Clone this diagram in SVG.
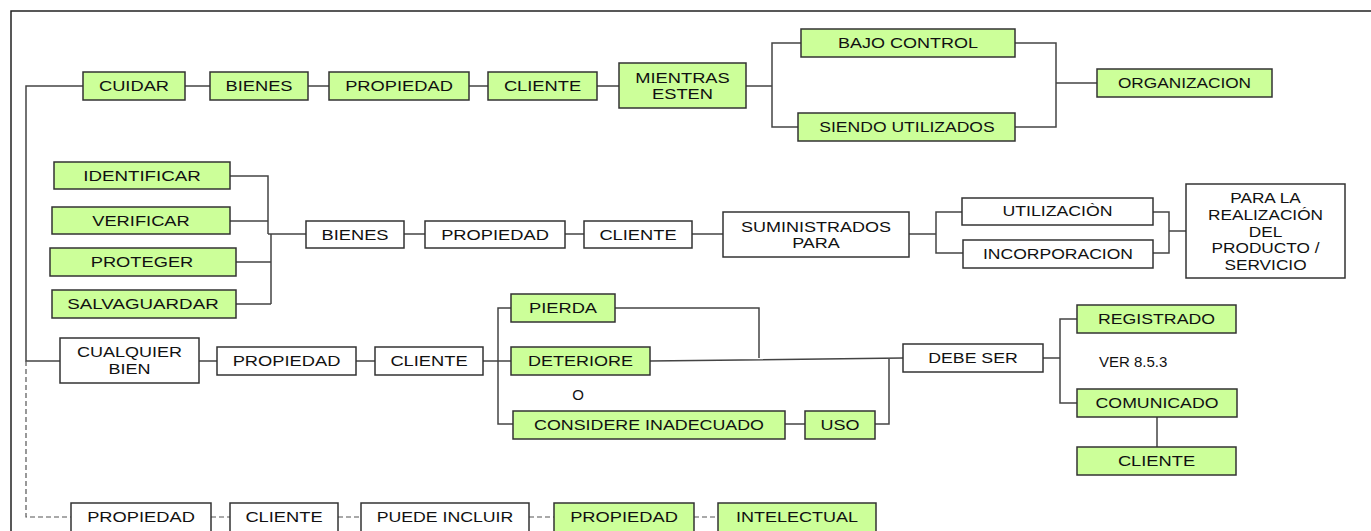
<svg xmlns="http://www.w3.org/2000/svg" width="1371" height="531" viewBox="0 0 1371 531">
<style>
.g{fill:#CCFF99;stroke:#333;stroke-width:1.5}
.w{fill:#fff;stroke:#333;stroke-width:1.5}
.t{font-family:"Liberation Sans",Arial,sans-serif;font-size:15px;text-anchor:middle;fill:#111}
.p{font-family:"Liberation Sans",Arial,sans-serif;font-size:15px;fill:#111}
.c{fill:none;stroke:#444;stroke-width:1.5}
.d{fill:none;stroke:#555;stroke-width:1.2;stroke-dasharray:5 3}
.f{fill:none;stroke:#222;stroke-width:1.5}
</style>
<rect width="1371" height="531" fill="#fff"/>
<path class="f" d="M11,531 V11 H1371"/>
<g id="connectors">
<path class="c" d="M83,86 H26 V361 H60"/>
<path class="c" d="M185,86 H210 M308,86 H329 M469,86 H488 M597,86 H619 M746,86 H772 M801,43 H772 V127 H798 M1015,43 H1056 V127 H1015 M1056,83 H1097"/>
<path class="c" d="M230,176 H268 V234 M230,221 H268 M268,234 H306 M271,234 V304 M236,262 H271 M236,304 H271 M404,234 H425 M565,234 H584 M692,234 H723 M909,234 H936 M962,212 H936 V253 H963 M1153,212 H1169 V253 H1153 M1169,231 H1186"/>
<path class="c" d="M199,361 H217 M356,361 H375 M483,361 H498 M511,308 H498 V424 H513 M498,361 H511 M615,308 H759 V358 M650,361 L903,358 M785,424 H805 M875,424 H889 V358 M1043,358 H1060 M1077,319 H1060 V403 H1077 M1157,417 V447"/>
<path class="d" d="M26,361 V517 H71 M211,517 H230 M338,517 H361 M529,517 H554 M694,517 H718"/>
</g>
<g id="n-cuidar"><rect class="g" x="83" y="72" width="102" height="28"/><text class="t" transform="translate(134,91) scale(1.22,1)">CUIDAR</text></g>
<g id="n-bienes1"><rect class="g" x="210" y="72" width="98" height="28"/><text class="t" transform="translate(259,91) scale(1.22,1)">BIENES</text></g>
<g id="n-propiedad1"><rect class="g" x="329" y="72" width="140" height="28"/><text class="t" transform="translate(399,91) scale(1.22,1)">PROPIEDAD</text></g>
<g id="n-cliente1"><rect class="g" x="488" y="72" width="109" height="28"/><text class="t" transform="translate(542.5,91) scale(1.22,1)">CLIENTE</text></g>
<g id="n-mientras"><rect class="g" x="619" y="63" width="127" height="45"/><text class="t" transform="translate(682.5,0) scale(1.22,1)"><tspan x="0" y="83">MIENTRAS</tspan><tspan x="0" y="99">ESTEN</tspan></text></g>
<g id="n-bajo"><rect class="g" x="801" y="29" width="214" height="28"/><text class="t" transform="translate(908,48) scale(1.2,1)">BAJO CONTROL</text></g>
<g id="n-siendo"><rect class="g" x="798" y="113" width="217" height="28"/><text class="t" transform="translate(907,132) scale(1.17,1)">SIENDO UTILIZADOS</text></g>
<g id="n-organizacion"><rect class="g" x="1097" y="69" width="175" height="28"/><text class="t" transform="translate(1184.5,88) scale(1.15,1)">ORGANIZACION</text></g>

<g id="n-identificar"><rect class="g" x="54" y="162" width="176" height="27"/><text class="t" transform="translate(142,181) scale(1.25,1)">IDENTIFICAR</text></g>
<g id="n-verificar"><rect class="g" x="52" y="207" width="178" height="27"/><text class="t" transform="translate(141,226) scale(1.22,1)">VERIFICAR</text></g>
<g id="n-proteger"><rect class="g" x="50" y="248" width="186" height="28"/><text class="t" transform="translate(142,267) scale(1.22,1)">PROTEGER</text></g>
<g id="n-salvaguardar"><rect class="g" x="52" y="290" width="184" height="28"/><text class="t" transform="translate(143,309) scale(1.25,1)">SALVAGUARDAR</text></g>
<g id="n-bienes2"><rect class="w" x="306" y="221" width="98" height="27"/><text class="t" transform="translate(355,240) scale(1.22,1)">BIENES</text></g>
<g id="n-propiedad2"><rect class="w" x="425" y="221" width="140" height="27"/><text class="t" transform="translate(495,240) scale(1.22,1)">PROPIEDAD</text></g>
<g id="n-cliente2"><rect class="w" x="584" y="221" width="108" height="27"/><text class="t" transform="translate(638,240) scale(1.22,1)">CLIENTE</text></g>
<g id="n-suministrados"><rect class="w" x="723" y="212" width="186" height="45"/><text class="t" transform="translate(816,0) scale(1.2,1)"><tspan x="0" y="232">SUMINISTRADOS</tspan><tspan x="0" y="248">PARA</tspan></text></g>
<g id="n-utilizacion"><rect class="w" x="962" y="198" width="191" height="27"/><text class="t" transform="translate(1057.5,216) scale(1.18,1)">UTILIZACIÒN</text></g>
<g id="n-incorporacion"><rect class="w" x="963" y="240" width="190" height="28"/><text class="t" transform="translate(1058,259) scale(1.17,1)">INCORPORACION</text></g>
<g id="n-paralarealizacion"><rect class="w" x="1186" y="184" width="159" height="94"/><text class="t" transform="translate(1265.5,0) scale(1.15,1)"><tspan x="0" y="203">PARA LA</tspan><tspan x="0" y="220">REALIZACIÓN</tspan><tspan x="0" y="237">DEL</tspan><tspan x="0" y="253">PRODUCTO /</tspan><tspan x="0" y="270">SERVICIO</tspan></text></g>

<g id="n-cualquier"><rect class="w" x="60" y="338" width="139" height="45"/><text class="t" transform="translate(129.5,0) scale(1.2,1)"><tspan x="0" y="357">CUALQUIER</tspan><tspan x="0" y="374">BIEN</tspan></text></g>
<g id="n-propiedad3"><rect class="w" x="217" y="347" width="139" height="28"/><text class="t" transform="translate(286.5,366) scale(1.22,1)">PROPIEDAD</text></g>
<g id="n-cliente3"><rect class="w" x="375" y="347" width="108" height="28"/><text class="t" transform="translate(429,366) scale(1.22,1)">CLIENTE</text></g>
<g id="n-pierda"><rect class="g" x="511" y="294" width="104" height="28"/><text class="t" transform="translate(563,313) scale(1.22,1)">PIERDA</text></g>
<g id="n-deteriore"><rect class="g" x="511" y="347" width="139" height="28"/><text class="t" transform="translate(580.5,366) scale(1.2,1)">DETERIORE</text></g>
<text class="t" x="578" y="400">O</text>
<g id="n-considere"><rect class="g" x="513" y="411" width="272" height="28"/><text class="t" transform="translate(649,430) scale(1.19,1)">CONSIDERE INADECUADO</text></g>
<g id="n-uso"><rect class="g" x="805" y="411" width="70" height="28"/><text class="t" transform="translate(840,430) scale(1.2,1)">USO</text></g>
<g id="n-debeser"><rect class="w" x="903" y="344" width="140" height="28"/><text class="t" transform="translate(973,363) scale(1.18,1)">DEBE SER</text></g>
<g id="n-registrado"><rect class="g" x="1077" y="305" width="159" height="28"/><text class="t" transform="translate(1156.5,324) scale(1.18,1)">REGISTRADO</text></g>
<text class="p" x="1099" y="367">VER 8.5.3</text>
<g id="n-comunicado"><rect class="g" x="1077" y="389" width="160" height="28"/><text class="t" transform="translate(1157,408) scale(1.18,1)">COMUNICADO</text></g>
<g id="n-cliente4"><rect class="g" x="1077" y="447" width="159" height="28"/><text class="t" transform="translate(1156.5,466) scale(1.22,1)">CLIENTE</text></g>

<g id="n-propiedad4"><rect class="w" x="71" y="503" width="140" height="29"/><text class="t" transform="translate(141,522) scale(1.22,1)">PROPIEDAD</text></g>
<g id="n-cliente5"><rect class="w" x="230" y="503" width="108" height="29"/><text class="t" transform="translate(284,522) scale(1.22,1)">CLIENTE</text></g>
<g id="n-puedeincluir"><rect class="w" x="361" y="503" width="168" height="29"/><text class="t" transform="translate(445,522) scale(1.18,1)">PUEDE INCLUIR</text></g>
<g id="n-propiedad5"><rect class="g" x="554" y="503" width="140" height="29"/><text class="t" transform="translate(624,522) scale(1.22,1)">PROPIEDAD</text></g>
<g id="n-intelectual"><rect class="g" x="718" y="503" width="158" height="29"/><text class="t" transform="translate(797,522) scale(1.2,1)">INTELECTUAL</text></g>
</svg>
